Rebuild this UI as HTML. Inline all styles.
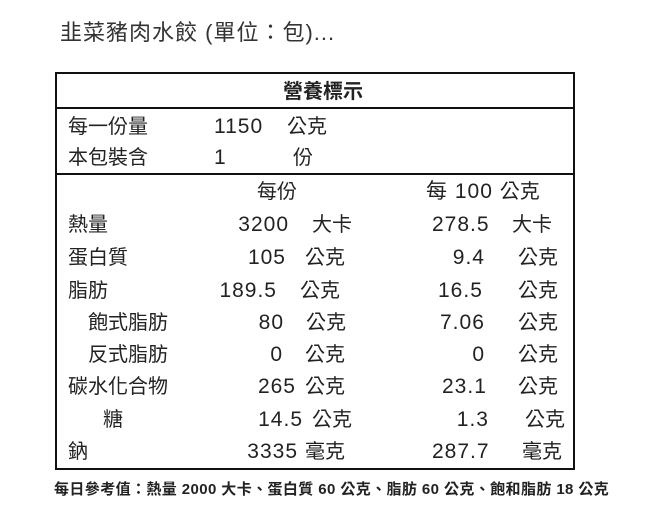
<!DOCTYPE html>
<html><head><meta charset="utf-8"><style>
body{margin:0;width:650px;height:520px;background:#fff;position:relative;font-family:"Liberation Sans","Noto Sans CJK TC",sans-serif;color:#222;overflow:hidden}
.t{position:absolute;font-size:20px;line-height:24px;white-space:nowrap}
.n{font-size:21px;letter-spacing:1px}
.r{text-align:right}
#box{position:absolute;left:55px;top:72px;width:516px;height:394px;border:2px solid #111}
.hl{position:absolute;left:0;width:516px;height:2px;background:#111}
</style></head><body>
<div class="t" style="left:60px;top:21px;font-size:22px;letter-spacing:1px;color:#333">韭菜豬肉水餃 (單位：包)...</div>
<div id="box"><div class="hl" style="top:33px"></div><div class="hl" style="top:99px"></div></div>
<div class="t" style="left:283px;top:80px;font-weight:bold">營養標示</div>
<div class="t" style="left:68px;top:115px">每一份量</div><div class="t n" style="left:214px;top:115px">1150</div><div class="t" style="left:287px;top:115px">公克</div>
<div class="t" style="left:68px;top:146px">本包裝含</div><div class="t n" style="left:214px;top:146px">1</div><div class="t" style="left:293px;top:146px">份</div>
<div class="t" style="left:257px;top:180px">每份</div><div class="t" style="left:426px;top:180px"><span class="n" style="font-size:21px">每 100 </span>公克</div>

<div class="t" style="left:68px;top:213px">熱量</div>
<div class="t r n" style="right:361px;top:213px">3200</div><div class="t" style="left:312px;top:213px">大卡</div>
<div class="t n" style="left:432px;top:213px">278.5</div><div class="t" style="left:512px;top:213px">大卡</div>

<div class="t" style="left:68px;top:246px">蛋白質</div>
<div class="t r n" style="right:364px;top:246px">105</div><div class="t" style="left:305px;top:246px">公克</div>
<div class="t r n" style="right:165px;top:246px">9.4</div><div class="t" style="left:518px;top:246px">公克</div>

<div class="t" style="left:68px;top:279px">脂肪</div>
<div class="t r n" style="right:373px;top:279px">189.5</div><div class="t" style="left:300px;top:279px">公克</div>
<div class="t n" style="left:438px;top:279px">16.5</div><div class="t" style="left:518px;top:279px">公克</div>

<div class="t" style="left:88px;top:311px">飽式脂肪</div>
<div class="t r n" style="right:366px;top:311px">80</div><div class="t" style="left:306px;top:311px">公克</div>
<div class="t n" style="left:440px;top:311px">7.06</div><div class="t" style="left:518px;top:311px">公克</div>

<div class="t" style="left:88px;top:343px">反式脂肪</div>
<div class="t r n" style="right:367px;top:343px">0</div><div class="t" style="left:305px;top:343px">公克</div>
<div class="t r n" style="right:165px;top:343px">0</div><div class="t" style="left:518px;top:343px">公克</div>

<div class="t" style="left:68px;top:375px">碳水化合物</div>
<div class="t r n" style="right:354px;top:375px">265</div><div class="t" style="left:305px;top:375px">公克</div>
<div class="t n" style="left:442px;top:375px">23.1</div><div class="t" style="left:518px;top:375px">公克</div>

<div class="t" style="left:103px;top:408px">糖</div>
<div class="t r n" style="right:347px;top:408px">14.5</div><div class="t" style="left:312px;top:408px">公克</div>
<div class="t r n" style="right:161px;top:408px">1.3</div><div class="t" style="left:525px;top:408px">公克</div>

<div class="t" style="left:68px;top:440px">鈉</div>
<div class="t r n" style="right:352px;top:440px">3335</div><div class="t" style="left:305px;top:440px">毫克</div>
<div class="t n" style="left:432px;top:440px">287.7</div><div class="t" style="left:522px;top:440px">毫克</div>

<div class="t" style="left:54px;top:481px;font-size:15px;line-height:18px;font-weight:bold;letter-spacing:0.4px">每日參考值：熱量 2000 大卡、蛋白質 60 公克、脂肪 60 公克、飽和脂肪 18 公克</div>
</body></html>
